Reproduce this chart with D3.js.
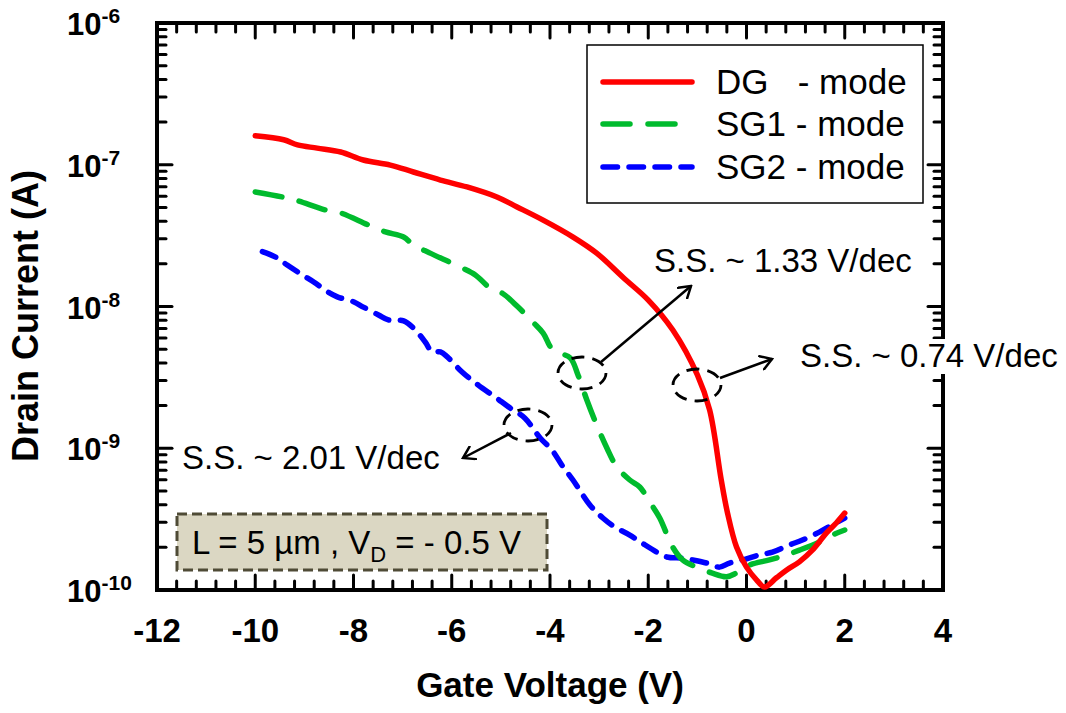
<!DOCTYPE html>
<html>
<head>
<meta charset="utf-8">
<script src="https://cdn.jsdelivr.net/npm/d3@7/dist/d3.min.js"></script>
<style>
  html, body { margin: 0; padding: 0; background: #fff; }
  svg { display: block; }
  text { font-family: "Liberation Sans", Arial, sans-serif; }
</style>
</head>
<body>
<svg id="chart" width="1066" height="713"></svg>
<script>
// Transfer curves: gate voltage (V) vs drain current (A)
const dgVg = [-10.0, -9.42, -9.14, -8.74, -8.26, -7.80, -7.25, -6.78, -6.23, -5.69, -5.08, -4.67, -4.14, -3.53, -3.05, -2.5, -2.0, -1.5, -1.0, -0.75, -0.514, -0.386, -0.203, 0, 0.203, 0.365, 0.609, 0.812, 1.076, 1.34, 1.624, 1.827, 2.0];
const dgId = [1.60e-7, 1.50e-7, 1.38e-7, 1.31e-7, 1.23e-7, 1.08e-7, 9.95e-8, 8.89e-8, 7.80e-8, 6.97e-8, 5.92e-8, 5.04e-8, 4.07e-8, 3.09e-8, 2.38e-8, 1.59e-8, 1.11e-8, 6.82e-9, 3.29e-9, 1.86e-9, 5.97e-10, 3.49e-10, 2.01e-10, 1.45e-10, 1.18e-10, 1.05e-10, 1.22e-10, 1.38e-10, 1.58e-10, 1.91e-10, 2.52e-10, 2.97e-10, 3.49e-10];

const sg1Vg = [-10.0, -9.44, -9.18, -8.57, -8.26, -7.70, -7.35, -6.98, -6.78, -6.44, -5.83, -5.52, -5.22, -4.97, -4.65, -4.35, -4.14, -3.94, -3.59, -3.43, -3.25, -3.05, -2.84, -2.64, -2.376, -2.173, -1.97, -1.766, -1.503, -1.30, -1.015, -0.711, -0.406, -0.203, 0.061, 0.467, 0.812, 1.076, 1.482, 1.746, 2.0];
const sg1Id = [6.43e-8, 5.92e-8, 5.64e-8, 4.80e-8, 4.57e-8, 3.76e-8, 3.36e-8, 3.09e-8, 2.72e-8, 2.38e-8, 1.90e-8, 1.67e-8, 1.35e-8, 1.24e-8, 9.91e-9, 7.78e-9, 6.50e-9, 4.93e-9, 4.34e-9, 3.29e-9, 2.19e-9, 1.46e-9, 1.00e-9, 7.38e-10, 5.97e-10, 5.33e-10, 4.18e-10, 3.22e-10, 2.01e-10, 1.63e-10, 1.45e-10, 1.32e-10, 1.24e-10, 1.32e-10, 1.50e-10, 1.63e-10, 1.77e-10, 1.91e-10, 2.18e-10, 2.44e-10, 2.65e-10];

const sg2Vg = [-9.855, -9.584, -9.35, -9.04, -8.81, -8.51, -8.33, -8.0, -7.8, -7.49, -7.29, -6.98, -6.78, -6.54, -6.40, -6.23, -6.09, -5.79, -5.46, -5.12, -4.81, -4.51, -4.20, -3.96, -3.76, -3.533, -3.188, -2.924, -2.68, -2.376, -2.132, -1.827, -1.624, -1.30, -1.096, -0.812, -0.548, -0.345, -0.081, 0.264, 0.528, 0.873, 1.137, 1.482, 1.746, 2.0];
const sg2Id = [2.44e-8, 2.23e-8, 1.96e-8, 1.67e-8, 1.49e-8, 1.26e-8, 1.17e-8, 1.08e-8, 9.91e-9, 8.71e-9, 8.04e-9, 7.91e-9, 7.05e-9, 5.62e-9, 4.78e-9, 4.78e-9, 4.41e-9, 3.45e-9, 2.79e-9, 2.30e-9, 1.92e-9, 1.63e-9, 1.18e-9, 9.72e-10, 7.62e-10, 5.97e-10, 3.98e-10, 3.22e-10, 2.78e-10, 2.44e-10, 2.15e-10, 1.85e-10, 1.71e-10, 1.68e-10, 1.63e-10, 1.55e-10, 1.45e-10, 1.55e-10, 1.63e-10, 1.77e-10, 1.85e-10, 2.08e-10, 2.25e-10, 2.56e-10, 2.88e-10, 3.22e-10];

const seriesNames = ["DG   - mode", "SG1 - mode", "SG2 - mode"];
const xTickValues = [-12, -10, -8, -6, -4, -2, 0, 2, 4];
const yTickExponents = [-6, -7, -8, -9, -10];
const ssLabels = ["S.S. ~ 1.33 V/dec", "S.S. ~ 0.74 V/dec", "S.S. ~ 2.01 V/dec"];
const conditionText = ["L = 5 \u00b5m , V", "D", " = - 0.5 V"];

const svg = d3.select("#chart");
const L = 157, R = 943, T = 23, B = 590;

const x = d3.scaleLinear().domain([-12, 4]).range([L, R]);
const y = d3.scaleLog().domain([1e-10, 1e-6]).range([B, T]);

// minor ticks
const xMinor = d3.range(-12, 4.0001, 0.4).filter(v => Math.abs(v / 2 - Math.round(v / 2)) > 1e-6);
const yMinor = [];
for (let e = -10; e < -6; e++) for (let m = 2; m <= 9; m++) yMinor.push(m * Math.pow(10, e));

const tickG = svg.append("g").attr("stroke", "#000").attr("stroke-width", 3).attr("stroke-linecap", "round");
const majLen = 15, minLen = 9;
xTickValues.forEach(v => {
  tickG.append("line").attr("x1", x(v)).attr("x2", x(v)).attr("y1", B).attr("y2", B - majLen);
  tickG.append("line").attr("x1", x(v)).attr("x2", x(v)).attr("y1", T).attr("y2", T + majLen);
});
xMinor.forEach(v => {
  tickG.append("line").attr("x1", x(v)).attr("x2", x(v)).attr("y1", B).attr("y2", B - minLen);
  tickG.append("line").attr("x1", x(v)).attr("x2", x(v)).attr("y1", T).attr("y2", T + minLen);
});
yTickExponents.forEach(e => {
  const yy = y(Math.pow(10, e));
  tickG.append("line").attr("x1", L).attr("x2", L + majLen).attr("y1", yy).attr("y2", yy);
  tickG.append("line").attr("x1", R).attr("x2", R - majLen).attr("y1", yy).attr("y2", yy);
});
yMinor.forEach(v => {
  const yy = y(v);
  tickG.append("line").attr("x1", L).attr("x2", L + minLen).attr("y1", yy).attr("y2", yy);
  tickG.append("line").attr("x1", R).attr("x2", R - minLen).attr("y1", yy).attr("y2", yy);
});

// frame
svg.append("rect").attr("x", L).attr("y", T).attr("width", R - L).attr("height", B - T)
  .attr("fill", "none").attr("stroke", "#000").attr("stroke-width", 4);

// x tick labels
svg.append("g").selectAll("text").data(xTickValues).join("text")
  .attr("x", d => x(d)).attr("y", 642).attr("text-anchor", "middle")
  .attr("font-size", 33).attr("font-weight", "bold").text(d => d);

// y tick labels 10^n
const yl = svg.append("g");
yTickExponents.forEach(e => {
  const t = yl.append("text").attr("x", 67).attr("y", y(Math.pow(10, e)) + 12)
    .attr("font-weight", "bold").attr("font-size", 31);
  t.append("tspan").text("10");
  t.append("tspan").attr("font-size", 21).attr("dy", -12).text(e);
});

// axis titles
svg.append("text").attr("x", (L + R) / 2).attr("y", 697).attr("text-anchor", "middle")
  .attr("font-size", 35).attr("font-weight", "bold").text("Gate Voltage (V)");
svg.append("text").attr("transform", "translate(38,316) rotate(-90)").attr("text-anchor", "middle")
  .attr("font-size", 36).attr("font-weight", "bold").text("Drain Current (A)");

// condition box
svg.append("rect").attr("x", 177).attr("y", 514).attr("width", 370).attr("height", 56)
  .attr("fill", "#dbd7c3").attr("stroke", "#4f4b36").attr("stroke-width", 3)
  .attr("stroke-dasharray", "10,5");
const ct = svg.append("text").attr("x", 192).attr("y", 554).attr("font-size", 33).style("white-space", "pre");
ct.append("tspan").text(conditionText[0]);
ct.append("tspan").attr("font-size", 22).attr("dy", 8).text(conditionText[1]);
ct.append("tspan").attr("dy", -8).text(conditionText[2]);

// curves
const series = [
  { vg: dgVg, id: dgId, color: "#ff0000", dash: null },
  { vg: sg1Vg, id: sg1Id, color: "#00bb2d", dash: "27,18" },
  { vg: sg2Vg, id: sg2Id, color: "#0000ff", dash: "14.5,11.5" }
];
const line = d3.line().x(d => x(d[0])).y(d => y(d[1])).curve(d3.curveCatmullRom.alpha(0.5));
const curveG = svg.append("g");
series.slice().reverse().forEach(s => {
  curveG.append("path").datum(d3.zip(s.vg, s.id))
    .attr("d", line).attr("fill", "none").attr("stroke", s.color)
    .attr("stroke-width", 5.5).attr("stroke-linecap", "round").attr("stroke-linejoin", "round")
    .attr("stroke-dasharray", s.dash);
});

// legend
svg.append("rect").attr("x", 587).attr("y", 45).attr("width", 336).attr("height", 158)
  .attr("fill", "#fff").attr("stroke", "#000").attr("stroke-width", 1.5);
const rowY = [82, 124, 167];
series.forEach((s, i) => {
  svg.append("line").attr("x1", 603).attr("x2", 692).attr("y1", rowY[i]).attr("y2", rowY[i])
    .attr("stroke", s.color).attr("stroke-width", 5.5).attr("stroke-linecap", "round")
    .attr("stroke-dasharray", s.dash);
  svg.append("text").attr("x", 716).attr("y", rowY[i] + 12).attr("font-size", 35)
    .style("white-space", "pre").text(seriesNames[i]);
});

// subthreshold-swing annotations
svg.append("defs").append("marker").attr("id", "arr").attr("viewBox", "-12 -8 14 16")
  .attr("refX", 0).attr("refY", 0).attr("markerWidth", 14).attr("markerHeight", 16)
  .attr("markerUnits", "userSpaceOnUse").attr("orient", "auto")
  .append("path").attr("d", "M-11,-7 L0,0 L-11,7").attr("fill", "none")
  .attr("stroke", "#000").attr("stroke-width", 2.5).attr("stroke-linecap", "round");

const ann = svg.append("g");
const ellipses = [[582, 373], [697, 385], [528, 425]];
ellipses.forEach(c => {
  ann.append("ellipse").attr("cx", c[0]).attr("cy", c[1]).attr("rx", 24).attr("ry", 16)
    .attr("fill", "none").attr("stroke", "#000").attr("stroke-width", 2.8)
    .attr("stroke-dasharray", "13,8");
});
const arrows = [[601, 362, 691, 286], [720, 378, 772, 359], [511, 433, 463, 458]];
arrows.forEach(a => {
  ann.append("line").attr("x1", a[0]).attr("y1", a[1]).attr("x2", a[2]).attr("y2", a[3])
    .attr("stroke", "#000").attr("stroke-width", 2.5).attr("marker-end", "url(#arr)");
});
const ssPos = [[654, 272], [800, 367], [182, 469]];
ssLabels.forEach((t, i) => {
  const txt = ann.append("text").attr("x", ssPos[i][0]).attr("y", ssPos[i][1]).attr("font-size", 33).text(t);
  // labels sit on an opaque white patch so the frame does not run through them
  const bb = txt.node().getBBox();
  ann.insert("rect", () => txt.node())
    .attr("x", bb.x - 4).attr("y", bb.y + 2).attr("width", bb.width + 8).attr("height", bb.height - 2)
    .attr("fill", "#fff");
});
</script>
</body>
</html>
